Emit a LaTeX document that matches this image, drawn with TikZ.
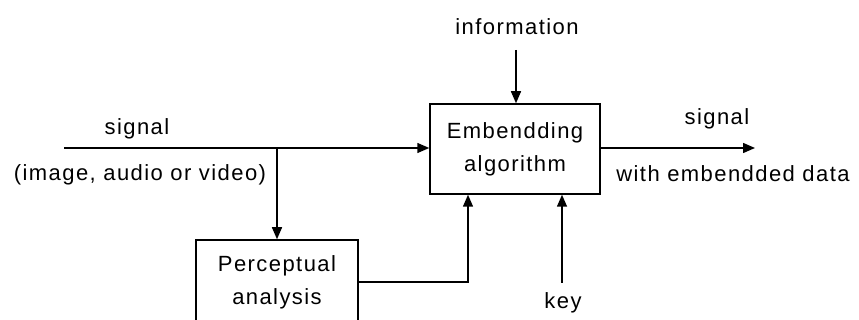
\documentclass[tikz,border=0pt]{standalone}
\usepackage{fontspec}
\setmainfont{Liberation Sans}[LetterSpace=6.5]
\usetikzlibrary{arrows.meta}
\begin{document}
\begin{tikzpicture}[x=1pt,y=-1pt,line width=1.5pt,
  box/.style={draw,line width=1.5pt,inner sep=0pt,align=center,font=\fontsize{22}{33}\selectfont},
  lbl/.style={inner sep=0pt,font=\fontsize{22}{26}\selectfont},
  arr/.style={-{Triangle[length=12pt,width=10pt]}}]
\useasboundingbox (0,0) rectangle (859,320);
\clip (0,0) rectangle (859,320);
\node[box,minimum width=170pt,minimum height=90pt] (emb) at (515,149) {Embendding\\algorithm};
\node[box,minimum width=162pt,minimum height=84pt] (perc) at (277,282) {Perceptual\\analysis};
\node[lbl] (sigin) at (137,129) {signal};
\node[lbl] (media) at (140,175) {(image, audio or video)};
\node[lbl] (info) at (517,27) {information};
\node[lbl] (sigout) at (717,118.5) {signal};
\node[lbl] (data) at (733,173.5) {with embendded data};
\node[lbl] (key) at (563,302.5) {key};
\coordinate (in) at (64,148);
\coordinate (br) at (277,148);
\coordinate (out) at (755,148);
\coordinate (pc) at (468,282);
\coordinate (kt) at (562,283);
\coordinate (it) at (516,50);
\draw[arr] (in) -- (emb.west |- in);
\draw[arr] (br) -- (perc.north);
\draw[arr] (perc.east) -- (pc) -- (pc |- emb.south);
\draw[arr] (emb.east |- out) -- (out);
\draw[arr] (it) -- (it |- emb.north);
\draw[arr] (kt) -- (kt |- emb.south);
\end{tikzpicture}
\end{document}
